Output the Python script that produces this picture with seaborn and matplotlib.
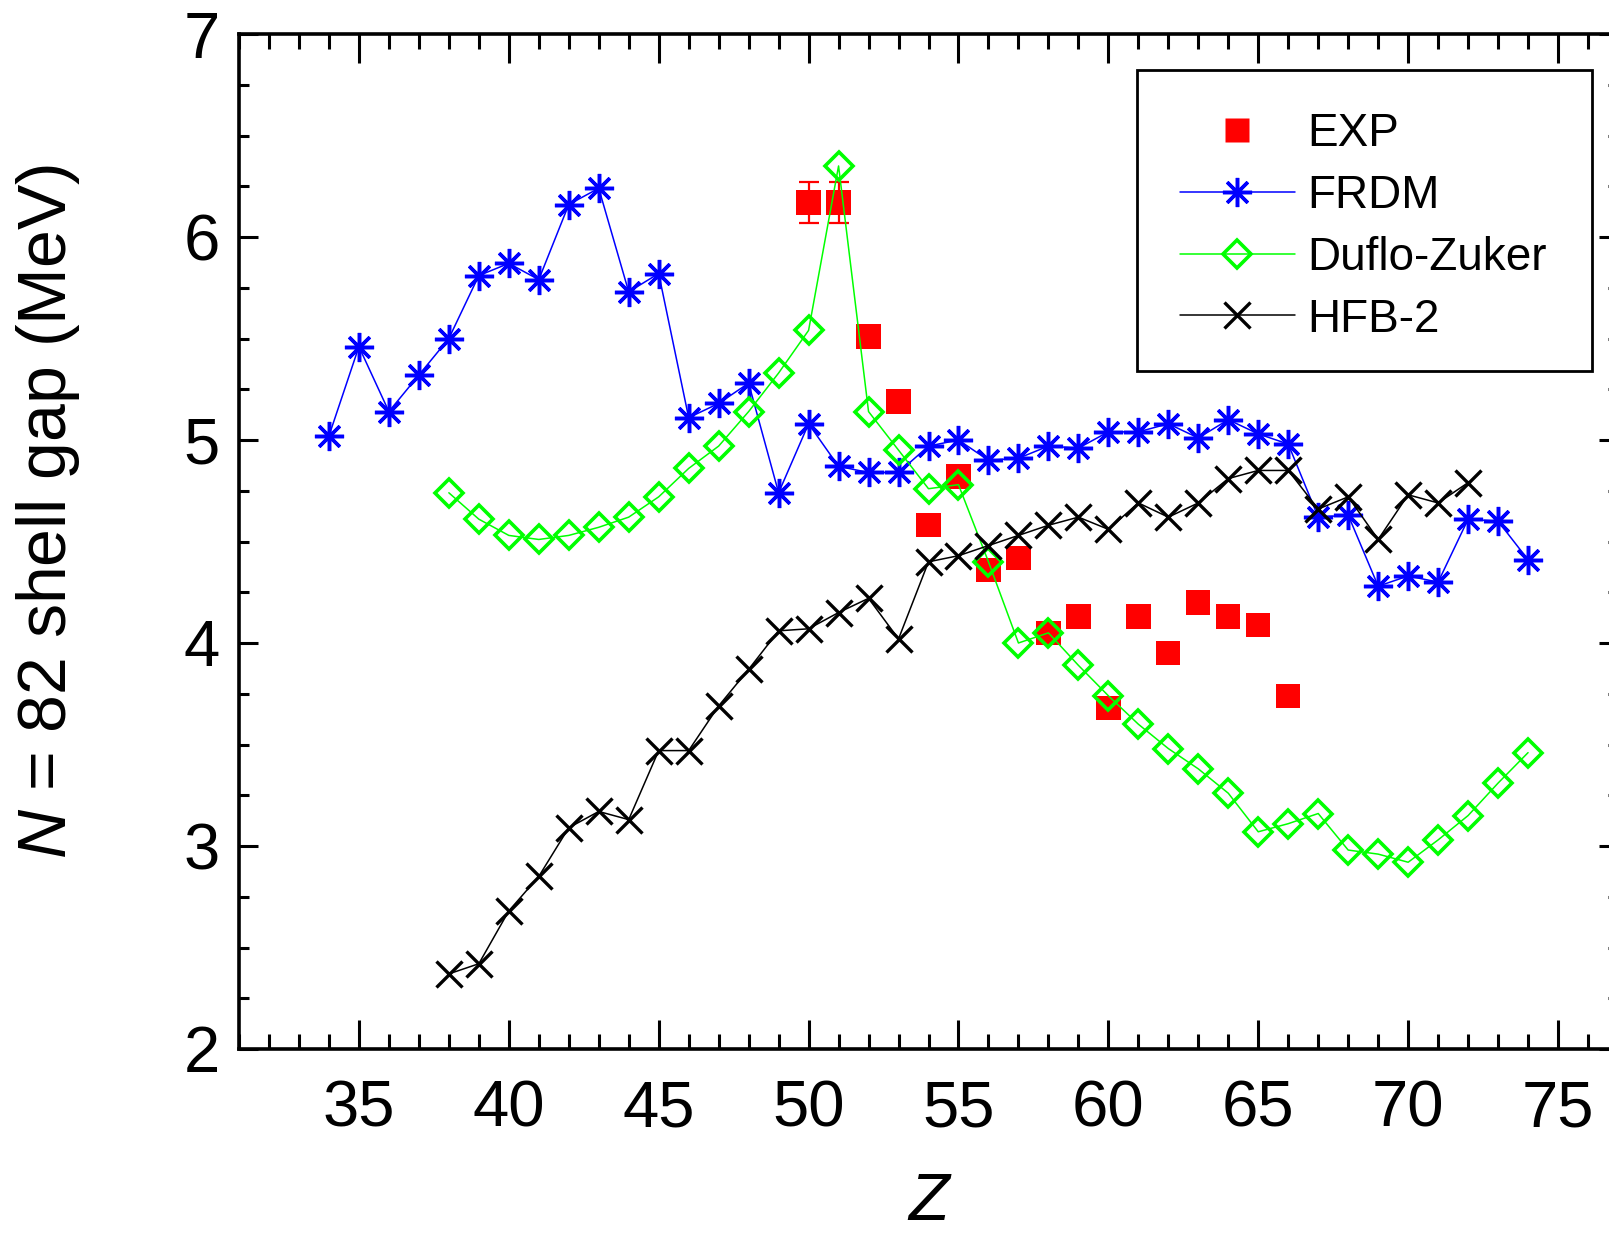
import numpy as np
import pandas as pd
import matplotlib
matplotlib.use("Agg")
import matplotlib.pyplot as plt
from matplotlib.lines import Line2D
from matplotlib.patches import Rectangle
from matplotlib.ticker import MultipleLocator
import seaborn as sns

# ---- data: N = 82 shell gap vs proton number Z ----
z_exp = [50, 51, 52, 53, 54, 55, 56, 57, 58, 59, 60, 61, 62, 63, 64, 65, 66]
gap_exp = [6.17, 6.17, 5.51, 5.19, 4.58, 4.82, 4.36, 4.42, 4.05, 4.13,
           3.68, 4.13, 3.95, 4.20, 4.13, 4.09, 3.74]
err_exp = [0.10, 0.10, 0.02, 0.02, 0.02, 0.02, 0.02, 0.02, 0.02, 0.02,
           0.02, 0.02, 0.02, 0.02, 0.02, 0.02, 0.03]

z_frdm = list(range(34, 75))
gap_frdm = [5.02, 5.46, 5.14, 5.32, 5.50, 5.81, 5.87, 5.79, 6.16, 6.24,
            5.73, 5.82, 5.11, 5.18, 5.28, 4.74, 5.08, 4.87, 4.84, 4.84,
            4.97, 5.00, 4.90, 4.91, 4.97, 4.96, 5.04, 5.04, 5.08, 5.01,
            5.10, 5.03, 4.98, 4.62, 4.63, 4.28, 4.33, 4.30, 4.61, 4.60,
            4.41]

z_dz = list(range(38, 75))
gap_dz = [4.74, 4.61, 4.53, 4.51, 4.53, 4.57, 4.62, 4.72, 4.86, 4.97,
          5.14, 5.33, 5.54, 6.35, 5.14, 4.95, 4.76, 4.78, 4.40, 4.00,
          4.05, 3.89, 3.74, 3.60, 3.48, 3.38, 3.26, 3.07, 3.11, 3.16,
          2.98, 2.96, 2.92, 3.03, 3.15, 3.31, 3.46]

z_hfb = list(range(38, 73))
gap_hfb = [2.37, 2.42, 2.68, 2.85, 3.09, 3.17, 3.13, 3.47, 3.47, 3.69,
           3.87, 4.06, 4.07, 4.15, 4.22, 4.02, 4.40, 4.43, 4.48, 4.53,
           4.58, 4.62, 4.56, 4.69, 4.62, 4.69, 4.81, 4.85, 4.85, 4.66,
           4.72, 4.51, 4.73, 4.69, 4.79]

labels = ["EXP", "FRDM", "Duflo-Zuker", "HFB-2"]
colors = {"EXP": "#ff0000", "FRDM": "#0000ff", "Duflo-Zuker": "#00ff00", "HFB-2": "#000000"}

df_exp = pd.DataFrame({"Z": z_exp, "gap": gap_exp, "err": err_exp})
df_frdm = pd.DataFrame({"Z": z_frdm, "gap": gap_frdm})
df_dz = pd.DataFrame({"Z": z_dz, "gap": gap_dz})
df_hfb = pd.DataFrame({"Z": z_hfb, "gap": gap_hfb})

sns.set_theme(style="ticks")
plt.rcParams["font.family"] = ["Liberation Sans", "DejaVu Sans"]
plt.rcParams["mathtext.fontset"] = "custom"
plt.rcParams["mathtext.rm"] = "Liberation Sans"
plt.rcParams["mathtext.it"] = "Liberation Sans:italic"
for key in ("text.color", "axes.labelcolor", "xtick.color", "ytick.color",
            "axes.edgecolor"):
    plt.rcParams[key] = "black"

W, H = 1609, 1234
fig = plt.figure(figsize=(W / 100, H / 100), dpi=100)
ax = fig.add_axes([239 / W, 185 / H, 1379 / W, 1015 / H])

asterisk = (8, 2, 0)
ms_sq, ms_ast, ms_dia, ms_x = 17.5, 21, 14.5, 19

# experimental values with error bars
ax.errorbar(df_exp["Z"], df_exp["gap"], yerr=df_exp["err"], fmt="none",
            ecolor=colors["EXP"], elinewidth=1.6, capsize=7, capthick=1.6, zorder=2)
sns.scatterplot(data=df_exp, x="Z", y="gap", marker="s", s=ms_sq ** 2,
                color=colors["EXP"], edgecolor="none", linewidth=0, ax=ax, zorder=3)

sns.lineplot(data=df_frdm, x="Z", y="gap", color=colors["FRDM"], lw=1.1,
             marker=asterisk, markersize=ms_ast, markeredgewidth=2.5,
             markeredgecolor=colors["FRDM"], ax=ax, zorder=4)
sns.lineplot(data=df_dz, x="Z", y="gap", color=colors["Duflo-Zuker"], lw=1.1,
             marker="D", markersize=ms_dia, markeredgewidth=2.6,
             markerfacecolor="none", markeredgecolor=colors["Duflo-Zuker"],
             ax=ax, zorder=5)
sns.lineplot(data=df_hfb, x="Z", y="gap", color=colors["HFB-2"], lw=1.1,
             marker="x", markersize=ms_x, markeredgewidth=2.4,
             markeredgecolor=colors["HFB-2"], ax=ax, zorder=6)

ax.set_xlim(31, 77)
ax.set_ylim(2, 7)
ax.xaxis.set_major_locator(MultipleLocator(5))
ax.xaxis.set_minor_locator(MultipleLocator(1))
ax.yaxis.set_major_locator(MultipleLocator(1))
ax.yaxis.set_minor_locator(MultipleLocator(0.25))

for sp in ax.spines.values():
    sp.set_linewidth(2.6)
    sp.set_color("black")

ax.tick_params(axis="both", which="both", direction="in", top=True, right=True,
               width=2.2, color="black")
ax.tick_params(axis="x", which="major", length=21, pad=22, labelsize=47)
ax.tick_params(axis="x", which="minor", length=11)
ax.tick_params(axis="y", which="major", length=14, pad=14, labelsize=47)
ax.tick_params(axis="y", which="minor", length=7)

ax.set_xlabel("Z", fontsize=48, style="italic", labelpad=23)
ax.set_ylabel("$N$ = 82 shell gap (MeV)", fontsize=49)
ax.yaxis.set_label_coords(-0.114, 0.53)

# legend: square-cornered box drawn as its own patch, entries on top of it
ax.add_patch(Rectangle((0.6512, 0.668), 0.3299, 0.2965, transform=ax.transAxes,
                       facecolor="white", edgecolor="black", linewidth=2.0,
                       zorder=9, clip_on=False))
handles = [
    Line2D([], [], ls="none", marker="s", markersize=ms_sq, color=colors["EXP"], mec="none"),
    Line2D([], [], color=colors["FRDM"], lw=1.1, marker=asterisk, markersize=ms_ast,
           markeredgewidth=2.5),
    Line2D([], [], color=colors["Duflo-Zuker"], lw=1.1, marker="D", markersize=ms_dia,
           markeredgewidth=2.6, markerfacecolor="none"),
    Line2D([], [], color=colors["HFB-2"], lw=1.1, marker="x", markersize=ms_x,
           markeredgewidth=2.4),
]
leg = ax.legend(handles, labels, loc="upper right", bbox_to_anchor=(0.981, 0.9675),
                fontsize=33, frameon=False,
                handlelength=2.5, handletextpad=0.28, labelspacing=0.39,
                borderpad=0.98, borderaxespad=0.0)
leg.set_zorder(10)

fig.savefig("out.png", dpi=100)
